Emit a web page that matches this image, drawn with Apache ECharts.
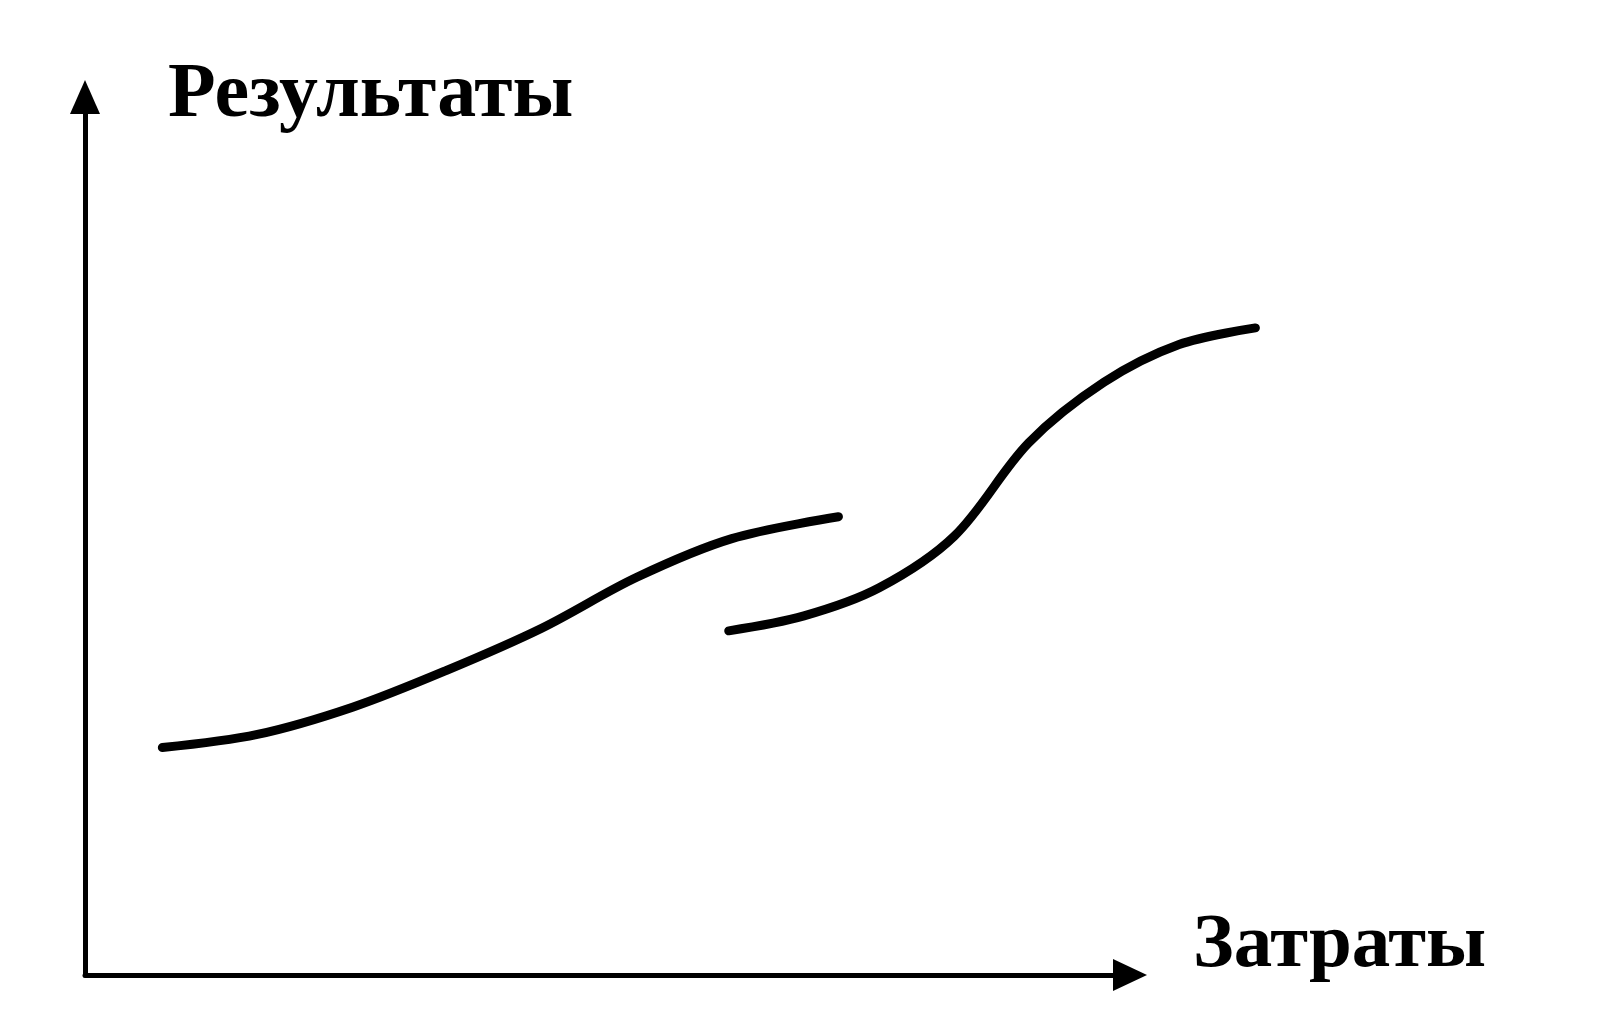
<!DOCTYPE html>
<html>
<head>
<meta charset="utf-8">
<script src="https://cdn.jsdelivr.net/npm/echarts@6/dist/echarts.min.js"></script>
<style>
html,body{margin:0;padding:0;background:#fff;}
#chart{width:1599px;height:1024px;}
</style>
</head>
<body>
<div id="chart"></div>
<script>
// Axis titles
var yAxisTitle = 'Результаты';
var xAxisTitle = 'Затраты';

// Curve 1 (lower, left): costs (x) and results (y); axis arrow length = 100 units
var curve1X = [7.4, 16.5, 25.6, 34.6, 43.7, 52.8, 61.9, 72.1];
var curve1Y = [25.9, 27.4, 30.5, 34.7, 39.5, 45.3, 49.7, 52.2];

// Curve 2 (upper, right)
var curve2X = [61.6, 68.8, 76.0, 83.2, 90.3, 97.5, 104.7, 112.0];
var curve2Y = [39.2, 40.9, 44.1, 50.0, 60.6, 67.5, 71.8, 73.7];

function pairs(xs, ys) { return xs.map(function (x, i) { return [x, ys[i]]; }); }

var chart = echarts.init(document.getElementById('chart'), null, {renderer: 'canvas'});
var axisLen = 1045;          // px for 100 units
var dataMax = 115;           // data grid spans 115 units so curves extending past the arrow are not cut
var hidden = {axisLine: {show: false}, axisTick: {show: false}, axisLabel: {show: false}, splitLine: {show: false}};
var lineStyle = {color: '#000', width: 9, cap: 'round', join: 'round'};
chart.setOption({
  animation: false,
  backgroundColor: '#fff',
  grid: [
    {left: 85, width: axisLen, top: 97, bottom: 49},
    {left: 85, width: axisLen * dataMax / 100, top: 97, bottom: 49}
  ],
  xAxis: [
    {gridIndex: 0, type: 'value', min: 0, max: 100,
     axisLine: {show: true, onZero: false, lineStyle: {color: '#000', width: 5},
                symbol: ['none', 'triangle'], symbolSize: [32, 34]},
     axisTick: {show: false}, axisLabel: {show: false}, splitLine: {show: false}},
    Object.assign({gridIndex: 1, type: 'value', min: 0, max: dataMax}, hidden)
  ],
  yAxis: [
    {gridIndex: 0, type: 'value', min: 0, max: 100,
     axisLine: {show: true, onZero: false, lineStyle: {color: '#000', width: 5},
                symbol: ['none', 'triangle'], symbolSize: [30, 34]},
     axisTick: {show: false}, axisLabel: {show: false}, splitLine: {show: false}},
    Object.assign({gridIndex: 1, type: 'value', min: 0, max: 100}, hidden)
  ],
  series: [
    {type: 'line', xAxisIndex: 1, yAxisIndex: 1, data: pairs(curve1X, curve1Y), smooth: 0.33,
     showSymbol: false, clip: false, lineStyle: lineStyle},
    {type: 'line', xAxisIndex: 1, yAxisIndex: 1, data: pairs(curve2X, curve2Y), smooth: 0.33,
     showSymbol: false, clip: false, lineStyle: lineStyle}
  ],
  graphic: [
    {type: 'text', left: 168, top: 57, style: {text: yAxisTitle, font: 'bold 78px "Liberation Serif"', fill: '#000'}},
    {type: 'text', left: 1193, top: 908, style: {text: xAxisTitle, font: 'bold 77px "Liberation Serif"', fill: '#000'}}
  ]
});
</script>
</body>
</html>
